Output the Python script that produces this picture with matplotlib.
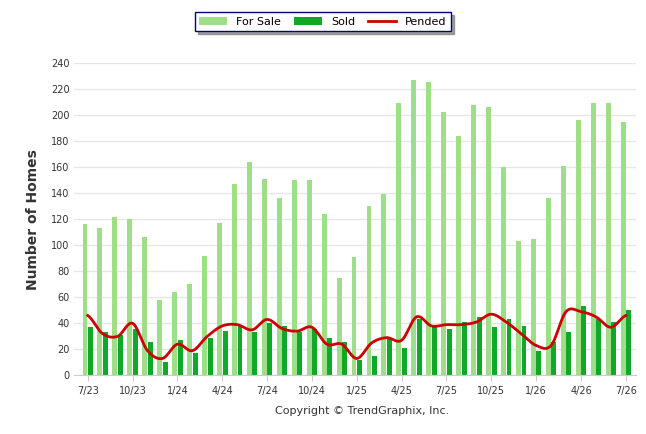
import numpy as np
from matplotlib import pyplot as plt

for_sale = [116, 113, 122, 120, 106, 58, 64, 70, 92, 117, 147, 164, 151, 136, 150, 150, 124, 75, 91,
            130, 139, 209, 227, 225, 202, 184, 208, 206, 160, 103, 105, 136, 161, 196, 209, 209, 195]
sold = [37, 33, 31, 36, 26, 10, 27, 17, 29, 34, 38, 33, 40, 38, 33, 36, 29, 26, 12,
        15, 29, 21, 43, 39, 36, 41, 45, 37, 43, 38, 19, 26, 33, 53, 43, 41, 50]
pended = [46, 32, 30, 40, 19, 13, 24, 19, 30, 38, 39, 35, 43, 36, 34, 37, 24, 24, 13,
          25, 29, 27, 45, 38, 39, 39, 41, 47, 41, 32, 23, 23, 49, 49, 45, 37, 46]

def smooth(y, n=12):
    # catmull-rom through the monthly points
    y = np.asarray(y, float)
    p = np.concatenate([[y[0]], y, [y[-1]]])
    xs, ys = [], []
    t = np.linspace(0, 1, n, endpoint=False)
    for i in range(1, len(p) - 2):
        p0, p1, p2, p3 = p[i-1], p[i], p[i+1], p[i+2]
        seg = 0.5 * (2*p1 + (-p0 + p2)*t + (2*p0 - 5*p1 + 4*p2 - p3)*t**2 + (-p0 + 3*p1 - 3*p2 + p3)*t**3)
        xs.extend(i - 1 + t)
        ys.extend(seg)
    xs.append(len(y) - 1)
    ys.append(y[-1])
    return np.array(xs), np.array(ys)

x = np.arange(len(for_sale))
fig = plt.figure(figsize=(6.46, 4.34), dpi=100)
ax = fig.add_axes([0.115, 0.135, 0.87, 0.72])
w = 0.33
b1 = ax.bar(x - w/2 - 0.02, for_sale, w, color='#9ede88', label='For Sale', zorder=2)
b2 = ax.bar(x + w/2 + 0.02, sold, w, color='#0fa829', label='Sold', zorder=2)
sx, sy = smooth(pended)
l1, = ax.plot(sx, sy, color='#cc0000', lw=2, label='Pended', zorder=3)

ax.set_ylim(0, 240)
ax.set_yticks(range(0, 241, 20))
ax.set_xlim(-0.9, len(x) - 0.3)
labels = ['7/23', '10/23', '1/24', '4/24', '7/24', '10/24', '1/25', '4/25', '7/25', '10/25', '1/26', '4/26', '7/26']
ax.set_xticks(range(0, len(x), 3))
ax.set_xticklabels(labels)
ax.tick_params(labelsize=7, colors='#333333', length=0)
ax.tick_params(axis='x', length=4, color='#cccccc')
ax.grid(axis='y', color='#e6e6e6', lw=1, zorder=0)
for s in ['top', 'right', 'left']:
    ax.spines[s].set_visible(False)
ax.spines['bottom'].set_color('#cccccc')
ax.set_ylabel('Number of Homes', fontsize=10, fontweight='bold', color='#333333', labelpad=8)
fig.text(0.56, 0.045, 'Copyright © TrendGraphix, Inc.', ha='center', fontsize=8, color='#333333')
fig.legend([b1, b2, l1], ['For Sale', 'Sold', 'Pended'], loc='upper center',
           bbox_to_anchor=(0.5, 0.985), ncol=3, fontsize=8,
           frameon=True, fancybox=False, shadow=True, edgecolor='#000080',
           handlelength=2.5, columnspacing=1.2)
fig.savefig('out.png')
